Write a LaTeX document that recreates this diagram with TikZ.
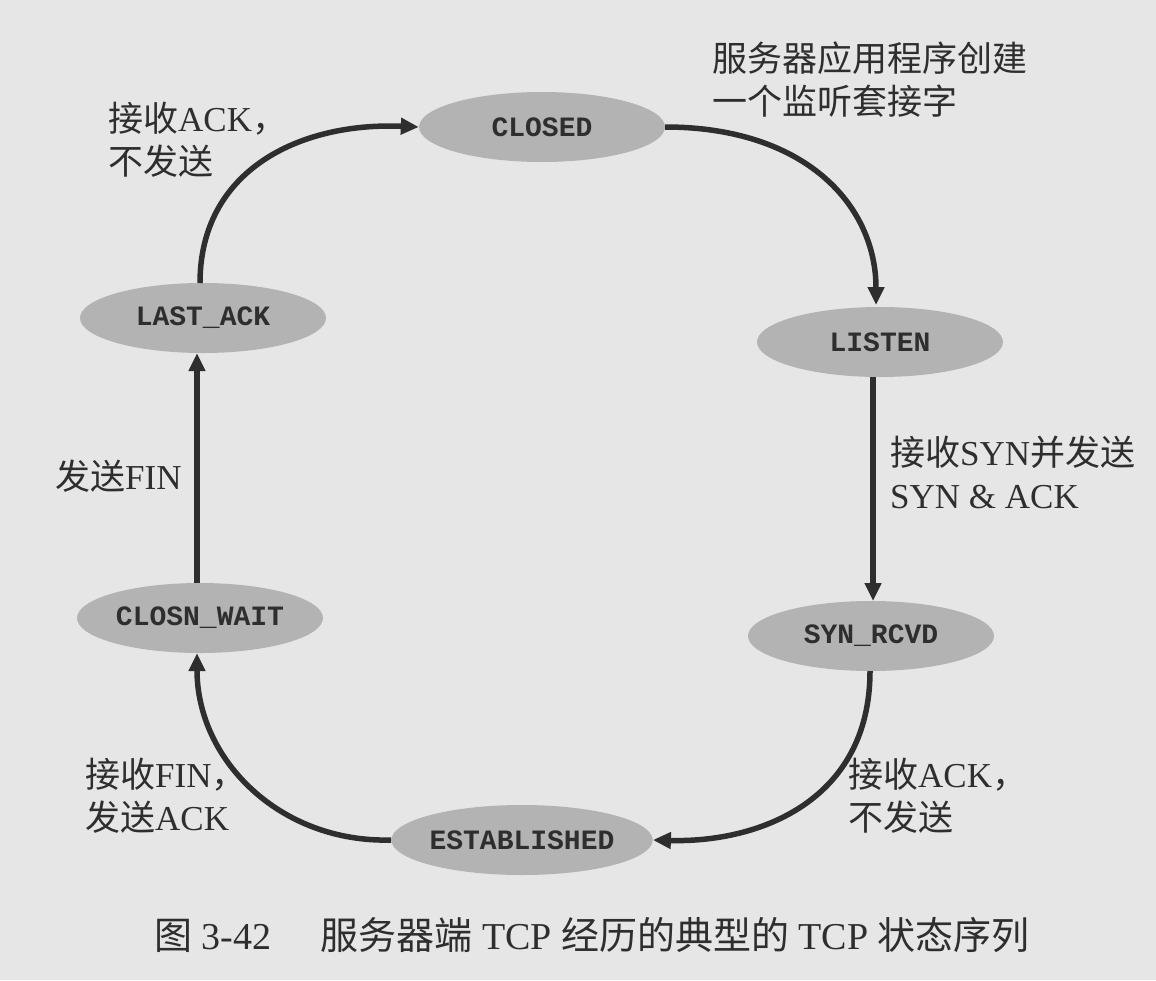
\documentclass[tikz,border=0pt]{standalone}
\usepackage{fontspec}
\setmainfont{Liberation Serif}
\setmonofont{Liberation Mono}
\newfontfamily\cjk{Noto Sans CJK SC}
\usetikzlibrary{shapes.geometric,arrows.meta}
\newcommand\zh[1]{{\cjk #1}}
\definecolor{bgc}{HTML}{E6E6E6}
\definecolor{ellc}{HTML}{B3B3B3}
\definecolor{ink}{HTML}{2E2E2E}
\tikzset{
  state/.style={ellipse, fill=ellc, minimum width=246pt, minimum height=70pt, inner sep=0pt,
    text=ink, font=\fontsize{28}{32}\selectfont\ttfamily\bfseries},
  conn/.style={line width=5.5pt, draw=ink, -{Triangle[length=18pt,width=16pt]}},
  lbl/.style={anchor=north west, align=left, text=ink, inner sep=0pt,
    font=\fontsize{35}{43}\selectfont},
}
\begin{document}
\begin{tikzpicture}[x=1pt,y=-1pt]
\fill[bgc] (0,0) rectangle (1156,980);
\useasboundingbox (0,0) rectangle (1156,980);

\node[state] (closed) at (542,127) {CLOSED};
\node[state] (listen) at (880,342) {LISTEN};
\node[state] (synr) at (871,636) {SYN\_RCVD};
\node[state] (estab) at (522,840) {ESTABLISHED};
\node[state] (clw) at (200,618) {CLOSN\_WAIT};
\node[state] (lack) at (203,318) {LAST\_ACK};

\coordinate (lt) at (876,305);
\coordinate (lb) at (873,377);
\coordinate (st) at (873,601);
\coordinate (sb) at (870,671);
\coordinate (cwb) at (197,653);
\coordinate (cwt) at (197,583);
\coordinate (lab) at (197,353);
\coordinate (lat) at (200,283);

\draw[conn] (closed.east) .. controls (805,127) and (876,205) .. (lt);
\draw[conn] (lb) -- (st);
\draw[conn] (sb) .. controls (870,800) and (760,843) .. (estab.east);
\draw[conn] (estab.west) .. controls (280,843) and (197,760) .. (cwb);
\draw[conn] (cwt) -- (lab);
\draw[conn] (lat) .. controls (200,170) and (300,122) .. (closed.west);

\node[lbl] (t1) at (712,42) {\zh{服务器应用程序创建}\\\zh{一个监听套接字}};
\node[lbl] (t2) at (108,102) {\zh{接收}ACK\zh{，}\\\zh{不发送}};
\node[lbl] (t3) at (890,436) {\zh{接收}SYN\zh{并发送}\\SYN \& ACK};
\node[lbl] (t4) at (55,460) {\zh{发送}FIN};
\node[lbl] (t5) at (85,758) {\zh{接收}FIN\zh{，}\\\zh{发送}ACK};
\node[lbl] (t6) at (848,758) {\zh{接收}ACK\zh{，}\\\zh{不发送}};

\node[text=ink, font=\fontsize{38}{42}\selectfont, inner sep=0pt] (cap) at (592,935)
  {\zh{图} 3-42\hspace{1.3em}\zh{服务器端} TCP \zh{经历的典型的} TCP \zh{状态序列}};
\end{tikzpicture}
\end{document}
